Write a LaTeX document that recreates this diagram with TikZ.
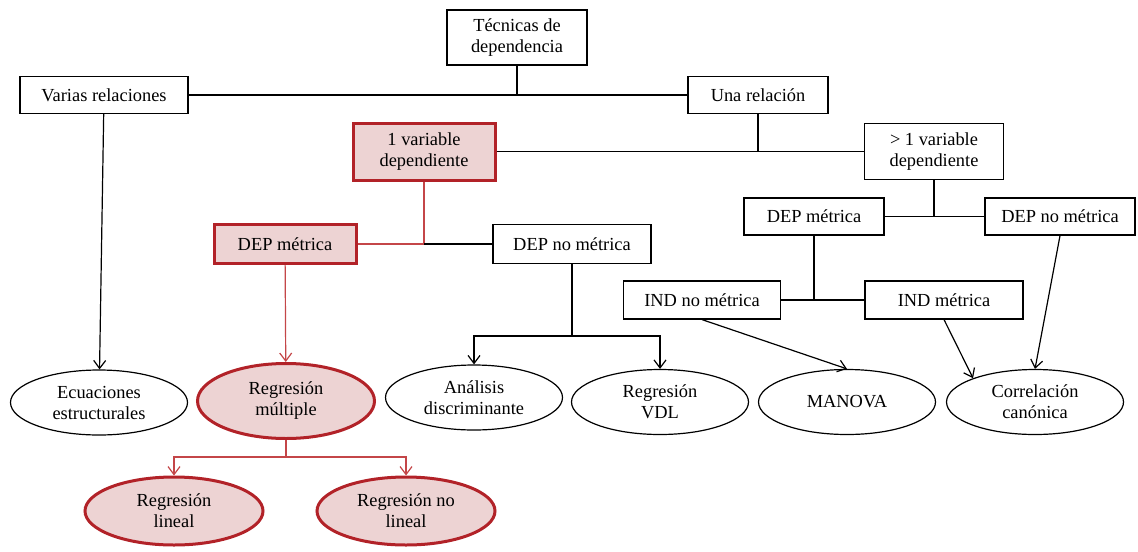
\documentclass[tikz,border=0pt]{standalone}
\usepackage{fontspec}
\setmainfont{Liberation Serif}
\usetikzlibrary{arrows.meta,shapes.geometric}
\definecolor{hlborder}{RGB}{178,34,40}
\definecolor{hlfill}{RGB}{237,211,211}
\definecolor{hlline}{RGB}{196,70,72}
\tikzset{
  box/.style={draw,line width=0.6pt,inner sep=1pt,align=center,font=\fontsize{9.2}{10.5}\selectfont},
  hlbox/.style={box,draw=hlborder,fill=hlfill,line width=1.5pt},
  oval/.style={ellipse,draw,line width=0.6pt,inner sep=0pt,minimum width=88.5pt,minimum height=32.5pt,align=center,font=\fontsize{9.2}{10.5}\selectfont},
  hloval/.style={oval,draw=hlborder,fill=hlfill,line width=1.5pt},
  link/.style={line width=0.6pt},
  hllink/.style={line width=0.6pt,draw=hlline},
  >={Straight Barb[length=4pt,width=6pt]}
}
\begin{document}
\begin{tikzpicture}[x=0.5pt,y=-0.5pt]
\useasboundingbox (0,0) rectangle (1138,551);
\node[box,minimum width=70pt,minimum height=27.5pt] (tec) at (517,37.5) {Técnicas de\\dependencia};
\node[box,minimum width=84pt,minimum height=18.5pt] (varias) at (104,95) {Varias relaciones};
\node[box,minimum width=70pt,minimum height=18.5pt] (una) at (758,95) {Una relación};
\node[hlbox,minimum width=71pt,minimum height=28.5pt] (unavar) at (424,151.5) {1 variable\\dependiente};
\node[box,minimum width=69.5pt,minimum height=28pt] (masvar) at (934,151.5) {> 1 variable\\dependiente};
\node[hlbox,minimum width=71pt,minimum height=19.5pt] (depmet) at (285,244) {DEP métrica};
\node[box,minimum width=79pt,minimum height=19.5pt] (depnomet) at (572,244) {DEP no métrica};
\node[box,minimum width=70pt,minimum height=18.5pt] (depmetb) at (814,216.5) {DEP métrica};
\node[box,minimum width=75pt,minimum height=18.5pt] (depnometb) at (1060,216.5) {DEP no métrica};
\node[box,minimum width=78.5pt,minimum height=19pt] (indnomet) at (702,300) {IND no métrica};
\node[box,minimum width=79pt,minimum height=19pt] (indmet) at (944,300) {IND métrica};
\node[oval] (ecu) at (99,402.5) {Ecuaciones\\estructurales};
\node[hloval,minimum height=37.5pt] (regmul) at (286,401) {Regresión\\múltiple};
\node[oval] (analisis) at (474,397.5) {Análisis\\discriminante};
\node[oval] (vdl) at (660,402) {Regresión\\VDL};
\node[oval] (manova) at (847,402) {MANOVA};
\node[oval] (corr) at (1035,402) {Correlación\\canónica};
\node[hloval,minimum width=89pt,minimum height=34pt] (reglin) at (174,511) {Regresión\\lineal};
\node[hloval,minimum width=89pt,minimum height=34pt] (regnolin) at (406,511) {Regresión no\\lineal};
\coordinate (rmj) at (286,457);
\coordinate (dnj) at (572,336);
\draw[link] (varias) -- (una);
\draw[link] (tec) -- (tec |- varias);
\draw[link] (una) -- (una |- unavar);
\draw[link] (unavar) -- (masvar);
\draw[hllink] (unavar) |- (depmet);
\draw[link] (unavar |- depnomet) -- (depnomet);
\draw[link,->] (varias) -- (ecu);
\draw[hllink,->] (depmet) -- (regmul);
\draw[hllink] (regmul) -- (rmj);
\draw[hllink,->] (rmj) -| (reglin);
\draw[hllink,->] (rmj) -| (regnolin);
\draw[link] (depnomet) -- (dnj);
\draw[link,->] (dnj) -| (analisis);
\draw[link,->] (dnj) -| (vdl);
\draw[link] (masvar) -- (masvar |- depmetb);
\draw[link] (depmetb) -- (depnometb);
\draw[link] (depmetb) -- (depmetb |- indnomet);
\draw[link] (indnomet) -- (indmet);
\draw[link,->] (indnomet.south) -- (manova.north);
\draw[link,->] (indmet.south) -- (corr.159);
\draw[link,->] (depnometb.south) -- (corr.north);
\end{tikzpicture}
\end{document}
